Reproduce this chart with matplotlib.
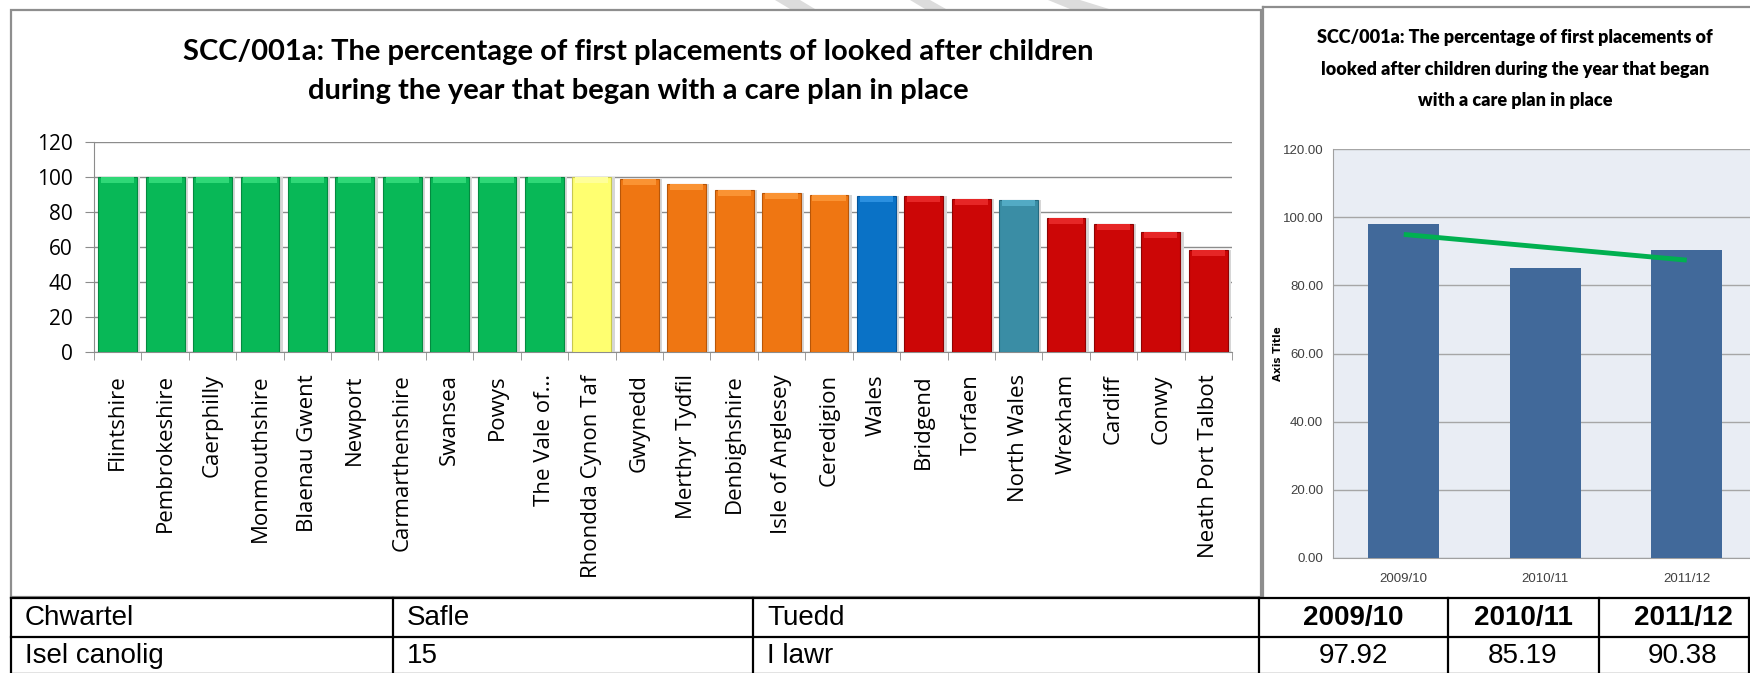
import matplotlib.pyplot as plt
import numpy as np
from matplotlib.patches import Rectangle, Polygon

W, H = 1750, 673

# Left chart: areas and their scores
areas = ['Flintshire', 'Pembrokeshire', 'Caerphilly', 'Monmouthshire', 'Blaenau Gwent',
         'Newport', 'Carmarthenshire', 'Swansea', 'Powys', 'The Vale of…',
         'Rhondda Cynon Taf', 'Gwynedd', 'Merthyr Tydfil', 'Denbighshire',
         'Isle of Anglesey', 'Ceredigion', 'Wales', 'Bridgend', 'Torfaen',
         'North Wales', 'Wrexham', 'Cardiff', 'Conwy', 'Neath Port Talbot']
area_values = [100, 100, 100, 100, 100, 100, 100, 100, 100, 100,
               99.8, 98.7, 95.8, 92.6, 90.7, 89.9, 89.1, 89.0, 87.6,
               86.9, 76.6, 73.0, 68.6, 58.3]
area_groups = ['g'] * 10 + ['y'] + ['o'] * 5 + ['w', 'r', 'r', 'n', 'r', 'r', 'r', 'r']

# Right chart: trend over years
years = ['2009/10', '2010/11', '2011/12']
year_values = [97.92, 85.19, 90.38]

# Table underneath
table_head = ['Chwartel', 'Safle', 'Tuedd']
table_row = ['Isel canolig', '15', 'I lawr']

title = ('SCC/001a: The percentage of first placements of looked after children\n'
         'during the year that began with a care plan in place')
title_small = ('SCC/001a: The percentage of first placements of\n'
               'looked after children during the year that began\n'
               'with a care plan in place')

body_col = {'g': '#08B857', 'y': '#FFFF70', 'o': '#EF7612', 'w': '#0A72C6',
            'r': '#CC0606', 'n': '#3A8DA5'}
top_col = {'g': '#2FD877', 'y': '#FFFF9A', 'o': '#FA9333', 'w': '#2B90E0',
           'r': '#E62626', 'n': '#52AAC4'}
edge_col = {'g': '#048A40', 'y': '#C8C850', 'o': '#B85608', 'w': '#05559A',
            'r': '#8E0303', 'n': '#256A80'}


def fig_rect(left, top, right, bottom):
    return [left / W, 1 - bottom / H, (right - left) / W, (bottom - top) / H]


fig = plt.figure(figsize=(W / 100, H / 100), dpi=100)
fig.patch.set_facecolor('white')

# ---- left bar chart ----
ax = fig.add_axes(fig_rect(94, 142, 1232, 352))
x = np.arange(len(areas))
vals = np.array(area_values)
ax.bar(x + 0.07, vals, width=0.82, color='#D6D6D6', zorder=2)
ax.bar(x, vals, width=0.82, color=[body_col[g] for g in area_groups],
       edgecolor=[edge_col[g] for g in area_groups], linewidth=0.8, zorder=3)
ax.bar(x, 3.5, bottom=vals - 3.5, width=0.7, color=[top_col[g] for g in area_groups],
       linewidth=0, zorder=4)
ax.set_xlim(-0.5, len(areas) - 0.5)
ax.set_ylim(0, 120)
ax.set_yticks(np.arange(0, 121, 20))
ax.yaxis.grid(True, color='#8C8C8C', linewidth=1.0, zorder=0)
ax.set_axisbelow(True)
for s in ['top', 'right']:
    ax.spines[s].set_visible(False)
for s in ['left', 'bottom']:
    ax.spines[s].set_color('#8C8C8C')
ax.tick_params(axis='y', direction='out', length=6.5, color='#8C8C8C', pad=9,
               labelsize=15)
ax.set_xticks(x)
ax.set_xticklabels(areas, rotation=90, fontsize=16, family='Open Sans')
ax.set_xticks(np.arange(-0.5, len(areas), 1), minor=True)
ax.tick_params(axis='x', which='major', length=0, pad=16)
ax.tick_params(axis='x', which='minor', direction='out', length=6, color='#8C8C8C')
for lab in ax.get_yticklabels():
    lab.set_family('Open Sans')
fig.text(638 / W, 1 - 71.5 / H, title, ha='center', va='center', fontsize=21,
         family='Lato', fontweight='bold', linespacing=1.6)

# ---- right bar chart with trend line ----
ax2 = fig.add_axes(fig_rect(1333, 149, 1333 + 424.5, 558))
xi = np.arange(len(years))
ax2.set_facecolor('#E9EDF4')
ax2.bar(xi, year_values, width=0.5, color='#41699A', zorder=3)
coef = np.polyfit(xi, year_values, 1)
ax2.plot(xi, np.polyval(coef, xi), color='#00B050', linewidth=3.5,
         solid_capstyle='butt', zorder=4)
ax2.set_xlim(-0.5, 2.5)
ax2.set_ylim(0, 120)
ax2.set_yticks(np.arange(0, 121, 20))
ax2.set_yticklabels([f'{v:.2f}' for v in np.arange(0, 121, 20)])
ax2.set_xticks(xi)
ax2.set_xticklabels(years)
ax2.yaxis.grid(True, color='#A6A6A6', linewidth=1.0, zorder=0)
ax2.set_axisbelow(True)
for s in ['top', 'right']:
    ax2.spines[s].set_visible(False)
for s in ['left', 'bottom']:
    ax2.spines[s].set_color('#A0A0A0')
ax2.tick_params(length=0, labelsize=9.5, labelcolor='#404040', pad=7)
ax2.tick_params(axis='x', pad=11)
for lab in ax2.get_yticklabels() + ax2.get_xticklabels():
    lab.set_family('Liberation Sans')
ax2.set_ylabel('Axis Title', fontsize=7.5, fontweight='bold', family='DejaVu Sans')
ax2.yaxis.set_label_coords(-0.118, 0.5)
fig.text(1515 / W, 1 - 69 / H, title_small, ha='center', va='center', fontsize=13,
         family='Lato', fontweight='heavy', linespacing=2.05)

# ---- frames, table and watermark on a pixel overlay ----
ov = fig.add_axes([0, 0, 1, 1], zorder=10)
ov.set_xlim(0, W)
ov.set_ylim(H, 0)
ov.axis('off')
ov.patch.set_alpha(0)

for xs in ([775, 800, 815, 790], [910, 930, 946, 925], [1048, 1080, 1109, 1070]):
    ov.add_patch(Polygon([(xs[0], 0), (xs[1], 0), (xs[2], 9), (xs[3], 9)],
                         closed=True, color='#DCDCDC', lw=0))
ov.add_patch(Rectangle((11, 10), 1250, 587, fill=False, edgecolor='#8E8E8E', lw=1.6))
ov.plot([1263, 1263], [7, 597], color='#8E8E8E', lw=1.6)
ov.plot([1263, W], [7, 7], color='#8E8E8E', lw=1.6)

row_y = [598, 637, 674]
col_x = [11, 393, 753, 1259, 1448, 1599, W - 1]
ov.add_patch(Rectangle((0, 598), W, 80, color='white', lw=0))
for yy in row_y:
    ov.plot([col_x[0], col_x[-1]], [yy, yy], color='black', lw=1.6)
for xx in col_x:
    ov.plot([xx, xx], [row_y[0], row_y[-1]], color='black', lw=1.6)

tfont = dict(family='Liberation Sans', fontsize=20, va='center', color='black')
for i in range(3):
    ov.text(col_x[i] + 14, 618, table_head[i], ha='left', **tfont)
    ov.text(col_x[i] + 14, 656, table_row[i], ha='left', **tfont)
cell_mid = [1353, 1523, 1683]
for i in range(3):
    ov.text(cell_mid[i], 618, years[i], ha='center', fontweight='bold', **tfont)
    ov.text(cell_mid[i], 656, f'{year_values[i]:.2f}', ha='center', **tfont)

fig.savefig('out.png', dpi=100)
